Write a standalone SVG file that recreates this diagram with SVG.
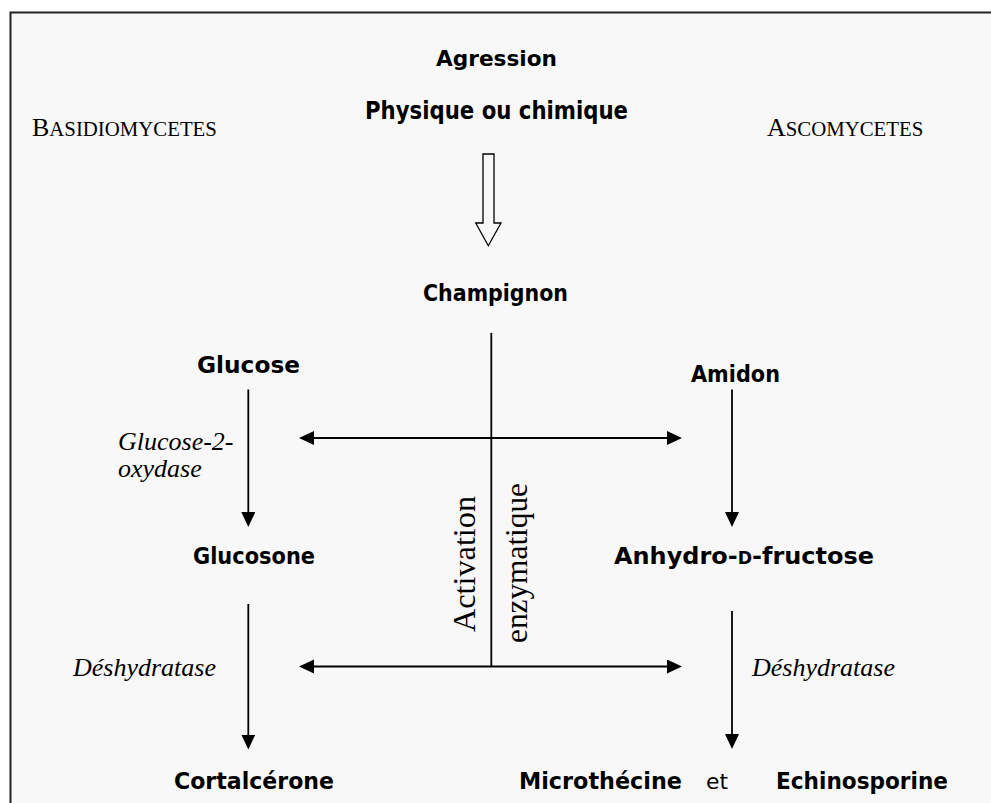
<svg xmlns="http://www.w3.org/2000/svg" width="991" height="803" viewBox="0 0 991 803">
  <style>
    .lbl { font-family: "Comic Sans MS", "DejaVu Sans", sans-serif; font-weight: bold; font-size: 23.5px; fill: #000; }
    .reg { font-family: "Comic Sans MS", "DejaVu Sans", sans-serif; font-weight: normal; font-size: 21px; fill: #000; }
    .enz { font-family: "Liberation Serif", "Times New Roman", serif; font-style: italic; font-size: 26px; fill: #000; }
    .grp { font-family: "Liberation Serif", "Times New Roman", serif; font-size: 26px; fill: #000; }
    .sc { font-size: 20.8px; }
    .act { font-family: "Liberation Serif", "Times New Roman", serif; font-size: 32px; fill: #000; }
    .conn { stroke: #000; stroke-width: 1.8; fill: none; }
  </style>
  <defs>
    <marker id="arr" markerUnits="userSpaceOnUse" markerWidth="16" markerHeight="16" refX="10" refY="7" orient="auto-start-reverse">
      <path d="M0,0 L15,7 L0,14 z" fill="#000"/>
    </marker>
  </defs>

  <rect x="0" y="0" width="991" height="803" fill="#ffffff"/>
  <rect id="frame" x="10.5" y="12.5" width="1000" height="820" fill="#f8f8f8" stroke="#222" stroke-width="2"/>

  <g id="basidiomycetes">
    <text class="grp" x="32" y="136">B<tspan class="sc">ASIDIOMYCETES</tspan></text>
  </g>
  <g id="ascomycetes">
    <text class="grp" x="767" y="136">A<tspan class="sc">SCOMYCETES</tspan></text>
  </g>

  <g id="agression">
    <text class="lbl" x="436" y="66" style="font-size:21px" textLength="121" lengthAdjust="spacingAndGlyphs">Agression</text>
    <text class="lbl" x="365" y="119" style="font-size:25px" textLength="263" lengthAdjust="spacingAndGlyphs">Physique ou chimique</text>
  </g>

  <g id="champignon">
    <text class="lbl" x="423" y="301" textLength="145" lengthAdjust="spacingAndGlyphs">Champignon</text>
  </g>

  <g id="glucose">
    <text class="lbl" x="197" y="373" textLength="103" lengthAdjust="spacingAndGlyphs">Glucose</text>
  </g>
  <g id="amidon">
    <text class="lbl" x="691" y="382" textLength="89" lengthAdjust="spacingAndGlyphs">Amidon</text>
  </g>

  <g id="glucose-2-oxydase">
    <text class="enz" x="118" y="450">Glucose-2-</text>
    <text class="enz" x="118" y="477">oxydase</text>
  </g>

  <g id="glucosone">
    <text class="lbl" x="193" y="564" textLength="122" lengthAdjust="spacingAndGlyphs">Glucosone</text>
  </g>
  <g id="anhydro-d-fructose">
    <text class="lbl" x="614" y="564" textLength="260" lengthAdjust="spacingAndGlyphs">Anhydro-<tspan style="font-size:17px">D</tspan>-fructose</text>
  </g>

  <g id="activation-enzymatique">
    <text class="act" transform="translate(475,564) rotate(-90)" x="0" y="0" text-anchor="middle" textLength="136" lengthAdjust="spacingAndGlyphs">Activation</text>
    <text class="act" transform="translate(527,563) rotate(-90)" x="0" y="0" text-anchor="middle" textLength="160" lengthAdjust="spacingAndGlyphs">enzymatique</text>
  </g>

  <g id="deshydratase-left">
    <text class="enz" x="73" y="676">Déshydratase</text>
  </g>
  <g id="deshydratase-right">
    <text class="enz" x="752" y="676">Déshydratase</text>
  </g>

  <g id="cortalcerone">
    <text class="lbl" x="174" y="789" textLength="160" lengthAdjust="spacingAndGlyphs">Cortalcérone</text>
  </g>
  <g id="microthecine">
    <text class="lbl" x="519" y="789" textLength="163" lengthAdjust="spacingAndGlyphs">Microthécine</text>
  </g>
  <g id="et">
    <text class="reg" x="706" y="789" textLength="22" lengthAdjust="spacingAndGlyphs">et</text>
  </g>
  <g id="echinosporine">
    <text class="lbl" x="776" y="789" textLength="172" lengthAdjust="spacingAndGlyphs">Echinosporine</text>
  </g>

  <g id="connectors">
    <!-- hollow arrow: agression -> champignon -->
    <polygon points="483,154 494,154 494,223 501,223 488.3,245.7 475.7,223 483,223" fill="#f8f8f8" stroke="#000" stroke-width="1.3"/>
    <!-- central trunk -->
    <line class="conn" x1="491.3" y1="333" x2="491.3" y2="666.5"/>
    <!-- upper double arrow -->
    <line class="conn" x1="304" y1="438" x2="677" y2="438" marker-start="url(#arr)" marker-end="url(#arr)"/>
    <!-- lower double arrow -->
    <line class="conn" x1="304" y1="666.5" x2="677" y2="666.5" marker-start="url(#arr)" marker-end="url(#arr)"/>
    <!-- glucose -> glucosone -->
    <line class="conn" x1="248.3" y1="389.5" x2="248.3" y2="522" marker-end="url(#arr)"/>
    <!-- amidon -> anhydro-D-fructose -->
    <line class="conn" x1="732" y1="389.5" x2="732" y2="522" marker-end="url(#arr)"/>
    <!-- glucosone -> cortalcerone -->
    <line class="conn" x1="248.3" y1="604" x2="248.3" y2="744.5" marker-end="url(#arr)"/>
    <!-- anhydro-D-fructose -> microthecine / echinosporine -->
    <line class="conn" x1="732" y1="611" x2="732" y2="744" marker-end="url(#arr)"/>
  </g>
</svg>
